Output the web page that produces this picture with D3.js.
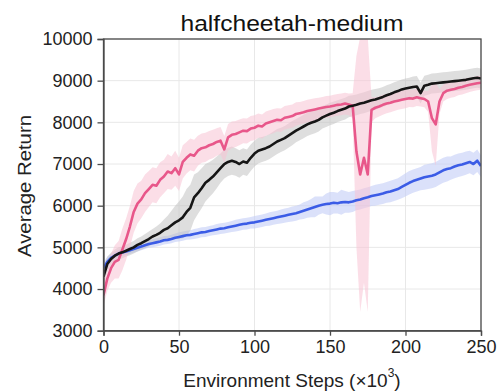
<!DOCTYPE html>
<html><head><meta charset="utf-8">
<script src="https://cdn.jsdelivr.net/npm/d3@7"></script>
<style>
html,body{margin:0;padding:0;background:#fff;}
svg{display:block;font-family:"Liberation Sans",Arial,sans-serif;}
</style></head>
<body><svg id="c" width="497" height="392"></svg>
<script>
const title = "halfcheetah-medium";
const yLabel = "Average Return";
const xLabelMain = "Environment Steps (×10";
const xLabelSup = "3";
const xTicks = [0, 50, 100, 150, 200, 250];
const yTicks = [3000, 4000, 5000, 6000, 7000, 8000, 9000, 10000];

// x grid: 0..250 step 2.5 (101 points)
const steps = [0,2.5,5,7.5,10,12.5,15,17.5,20,22.5,25,27.5,30,32.5,35,37.5,40,42.5,45,47.5,
50,52.5,55,57.5,60,62.5,65,67.5,70,72.5,75,77.5,80,82.5,85,87.5,90,92.5,95,97.5,
100,102.5,105,107.5,110,112.5,115,117.5,120,122.5,125,127.5,130,132.5,135,137.5,140,142.5,145,147.5,
150,152.5,155,157.5,160,162.5,165,167.5,170,172.5,175,177.5,180,182.5,185,187.5,190,192.5,195,197.5,
200,202.5,205,207.5,210,212.5,215,217.5,220,222.5,225,227.5,230,232.5,235,237.5,240,242.5,245,247.5,250];

const pinkMean = [3850,4250,4500,4650,4700,4950,5200,5500,5850,6050,
6150,6300,6400,6500,6480,6620,6700,6820,6780,6900,
6750,7050,7150,7230,7200,7320,7380,7400,7450,7480,
7530,7560,7350,7640,7700,7720,7760,7800,7790,7850,
7870,7920,7900,7970,8000,8030,8060,8050,8110,8130,
8150,8200,8220,8240,8270,8290,8310,8330,8350,8370,
8380,8400,8420,8430,8450,8430,8400,7300,6750,7150,
6750,8300,8350,8380,8420,8450,8470,8500,8520,8540,
8560,8580,8570,8600,8580,8560,8500,8100,7950,8500,
8700,8760,8780,8800,8830,8850,8880,8900,8920,8940,8950];
const pinkSpread = [250,300,350,400,450,
500,500,500,500,480,450,450,430,420,420,420,400,420,400,420,400,400,380,380,380,
360,350,350,340,340,330,330,320,320,320,310,310,300,300,300,300,290,290,290,290,
290,280,280,280,280,280,280,270,270,270,270,270,260,260,260,260,260,260,260,260,
260,300,2300,3300,3000,3300,300,
250,240,240,230,230,230,220,220,220,210,210,210,200,200,
250,800,1000,300,
200,200,190,190,180,180,180,170,170,170,170];

const blackMean = [4300,4600,4720,4800,4850,4880,4920,4960,5000,5060,
5100,5150,5200,5260,5300,5350,5420,5460,5530,5600,
5650,5720,5850,5950,6200,6300,6420,6550,6620,6700,
6800,6900,7000,7050,7080,7050,7000,7060,7030,7150,
7250,7320,7350,7380,7420,7480,7540,7580,7620,7680,
7740,7800,7850,7900,7950,7990,8020,8060,8120,8160,
8200,8230,8270,8300,8330,8380,8400,8420,8450,8470,
8500,8530,8550,8580,8610,8650,8680,8720,8750,8790,
8810,8830,8850,8860,8700,8880,8900,8930,8940,8950,
8960,8970,8980,8990,9000,9010,9020,9040,9060,9070,9050];
const blackSpread = [200,180,150,150,150,140,140,150,150,160,160,170,180,180,200,220,250,
300,350,400,450,500,550,550,550,500,480,450,420,400,380,
350,350,340,340,330,330,320,320,320,310,310,300,300,300,300,300,290,290,290,290,
280,280,280,280,280,280,280,270,270,270,
270,260,260,260,260,250,250,250,250,250,250,250,240,240,240,240,240,240,240,240,
240,250,250,250,240,240,240,240,240,240,240,240,240,240,240,240,240,240,240,240];

const blueMean = [4500,4650,4750,4800,4850,4880,4900,4930,4960,4990,
5020,5050,5080,5100,5120,5140,5170,5180,5200,5230,
5250,5270,5290,5300,5320,5340,5360,5370,5390,5410,
5430,5450,5460,5480,5500,5520,5540,5560,5570,5590,
5600,5620,5640,5660,5680,5700,5720,5740,5760,5780,
5800,5820,5850,5880,5910,5940,5970,6000,6020,6040,
6050,6070,6060,6080,6090,6080,6100,6130,6150,6180,
6200,6230,6250,6270,6290,6320,6340,6370,6400,6450,
6500,6550,6590,6620,6650,6680,6700,6720,6750,6800,
6850,6880,6900,6940,6970,6990,7020,7050,7000,7080,6950];
const blueSpread = [150,120,100,100,90,90,90,90,90,90,90,90,90,100,100,100,100,100,100,100,110,
110,110,110,120,120,120,120,120,120,130,130,130,130,130,140,140,140,140,140,150,150,150,150,160,160,160,170,170,170,180,180,180,
200,200,220,250,220,200,250,280,260,250,300,260,250,250,240,240,240,240,240,250,
250,250,250,260,260,260,270,280,280,280,280,280,300,300,300,300,300,300,300,280,
280,280,280,280,270,270,270,260];

const series = [
  {name:"blue", mean:blueMean, spread:blueSpread, line:"#3b5ce6", band:"#c3cdf7", bandOp:0.6},
  {name:"black", mean:blackMean, spread:blackSpread, line:"#151515", band:"#bdbdbd", bandOp:0.5},
  {name:"pink", mean:pinkMean, spread:pinkSpread, line:"#e8578a", band:"#f7c3d3", bandOp:0.55}
];

const svg = d3.select("#c");
const L = 103.5, R = 481, T = 39, B = 330.7;
const x = d3.scaleLinear().domain([0,250]).range([L,R]);
const y = d3.scaleLinear().domain([3000,10000]).range([B,T]);

// grid
const g = svg.append("g");
g.selectAll("line.gx").data(xTicks).join("line")
  .attr("x1",d=>x(d)).attr("x2",d=>x(d)).attr("y1",T).attr("y2",B)
  .attr("stroke","#e8e8e8").attr("stroke-width",1);
g.selectAll("line.gy").data(yTicks).join("line")
  .attr("y1",d=>y(d)).attr("y2",d=>y(d)).attr("x1",L).attr("x2",R)
  .attr("stroke","#e8e8e8").attr("stroke-width",1);

svg.append("clipPath").attr("id","clip").append("rect")
  .attr("x",L).attr("y",T).attr("width",R-L).attr("height",B-T);
const plot = svg.append("g").attr("clip-path","url(#clip)");

const area = s => d3.area()
  .x((d,i)=>x(steps[i]))
  .y0((d,i)=>y(s.mean[i]-s.spread[i]))
  .y1((d,i)=>y(s.mean[i]+s.spread[i]));
const line = s => d3.line().x((d,i)=>x(steps[i])).y((d,i)=>y(s.mean[i]));

series.forEach(s=>{
  plot.append("path").datum(s.mean).attr("d",area(s))
    .attr("fill",s.band).attr("fill-opacity",s.bandOp).attr("stroke","none");
});
["blue","pink","black"].forEach(n=>{
  const s = series.find(d=>d.name===n);
  plot.append("path").datum(s.mean).attr("d",line(s))
    .attr("fill","none").attr("stroke",s.line).attr("stroke-width",2.6)
    .attr("stroke-linejoin","round");
});

// frame
svg.append("rect").attr("x",L).attr("y",T).attr("width",R-L).attr("height",B-T)
  .attr("fill","none").attr("stroke","#4a4a4a").attr("stroke-width",1.3);

// axes
const xAxis = svg.append("g").attr("transform",`translate(0,${B})`)
  .call(d3.axisBottom(x).tickValues(xTicks).tickSize(5).tickPadding(5).tickFormat(d3.format("d")));
const yAxis = svg.append("g").attr("transform",`translate(${L},0)`)
  .call(d3.axisLeft(y).tickValues(yTicks).tickSize(6).tickPadding(5).tickFormat(d3.format("d")));
[xAxis,yAxis].forEach(a=>{
  a.select(".domain").attr("stroke","#4a4a4a").attr("stroke-width",1.3);
  a.selectAll(".tick line").attr("stroke","#4a4a4a").attr("stroke-width",1.3);
  a.selectAll(".tick text").attr("fill","#222").style("font-size","18px")
    .style("font-family","'Liberation Sans',Arial,sans-serif");
});

// title
svg.append("text").attr("x",292).attr("y",31).attr("text-anchor","middle")
  .attr("fill","#111").style("font-size","22px")
  .attr("textLength",223).attr("lengthAdjust","spacingAndGlyphs").text(title);

// y label
svg.append("text").attr("transform","translate(31,186) rotate(-90)")
  .attr("text-anchor","middle").attr("fill","#222").style("font-size","18px")
  .attr("textLength",142).attr("lengthAdjust","spacingAndGlyphs").text(yLabel);

// x label
const xl = svg.append("text").attr("x",292).attr("y",387).attr("text-anchor","middle")
  .attr("fill","#222").style("font-size","19px");
xl.append("tspan").text(xLabelMain);
xl.append("tspan").attr("dy",-10).style("font-size","12px").text(xLabelSup);
xl.append("tspan").attr("dy",10).text(")");
</script></body></html>
